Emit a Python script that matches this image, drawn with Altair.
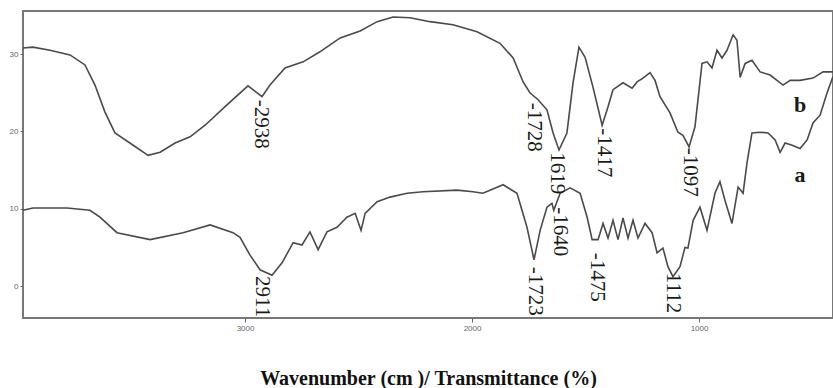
import altair as alt
import pandas as pd

# Curve a (lower spectrum)
wn_a = [3978, 3934, 3784, 3683, 3639, 3564, 3418, 3273, 3154, 3053, 3022, 2978, 2934, 2881,
        2837, 2788, 2749, 2714, 2678, 2639, 2595, 2551, 2515, 2489, 2471, 2418, 2361, 2286,
        2216, 2066, 1996, 1952, 1863, 1802, 1758, 1727, 1700, 1670, 1648, 1640, 1612, 1568,
        1524, 1493,
        1471, 1445, 1423, 1401, 1379, 1357, 1335, 1313, 1291, 1269, 1238, 1207, 1185, 1159,
        1137, 1115, 1084, 1062, 1049, 1026, 996, 965, 930, 908, 886, 855, 828, 806, 789, 767,
        731, 696, 665, 643, 621, 590, 555, 524, 498, 467, 436, 410]
tr_a = [9.8, 10.1, 10.1, 9.8, 8.9, 6.9, 6.0, 6.9, 7.9, 6.9, 6.3, 4.0, 2.1, 1.4,
        3.0, 5.6, 5.3, 7.0, 4.7, 7.0, 7.6, 8.9, 9.4, 7.2, 9.4, 10.9, 11.5, 12.0,
        12.2, 12.4, 12.2, 12.0, 13.1, 12.0, 7.6, 3.4, 7.2, 10.2, 10.7, 9.8, 12.0, 12.7,
        12.0, 8.9,
        6.0, 6.0, 8.1, 6.2, 8.5, 6.0, 8.8, 6.2, 8.5, 6.2, 8.1, 6.9, 4.3, 4.9,
        2.5, 1.2, 2.5, 5.0, 4.9, 8.5, 10.2, 7.2, 12.0, 13.5, 11.1, 8.1, 12.8, 12.0, 15.9, 19.8,
        19.9, 19.8, 18.9, 17.3, 18.5, 18.2, 17.8, 18.9, 21.1, 22.1, 25.0, 27.1]

# Curve b (upper spectrum)
wn_b = [3978, 3934, 3859, 3771, 3705, 3661, 3617, 3573, 3507, 3427, 3374, 3308, 3242, 3176,
        3088, 2987, 2925, 2890, 2824, 2744, 2670, 2581, 2493, 2418, 2348, 2273, 2185, 2084,
        1978, 1877, 1819, 1775, 1745, 1709,
        1670, 1643, 1617, 1582, 1555, 1529, 1502, 1467, 1427, 1405, 1379, 1335, 1295, 1273,
        1247, 1216, 1194, 1172, 1128, 1093, 1071, 1044, 1018, 987, 965, 943, 921, 899, 877,
        850, 833, 819, 797, 767, 731, 687, 630, 599, 555, 498, 454, 410]
tr_b = [30.8, 30.9, 30.5, 29.9, 28.6, 26.0, 22.5, 19.8, 18.5, 16.9, 17.3, 18.5, 19.3, 20.8,
        23.2, 25.9, 24.5, 26.0, 28.2, 29.0, 30.3, 32.1, 33.0, 34.2, 34.8, 34.7, 34.2, 33.8,
        32.9, 31.4, 29.5, 26.4, 25.0, 24.1,
        22.8, 19.8, 17.6, 19.8, 26.3, 30.9, 29.6, 25.7, 20.8, 22.8, 25.4, 26.3, 25.6, 26.4,
        26.9, 27.6, 26.6, 24.5, 22.4, 19.9, 19.5, 18.0, 20.6, 28.8, 29.0, 28.2, 30.5, 29.5, 30.5,
        32.5, 31.8, 27.0, 28.8, 29.2, 27.7, 27.3, 26.0, 26.6, 26.6, 26.9, 27.7, 27.7]

# Peak annotations
peak_text = ["-2938", "2911", "-1728", "1619", "-1640", "-1723", "-1417", "-1475", "-1097", "1112"]
peak_wn = [2930, 2925, 1727, 1626, 1612, 1722, 1418, 1449, 1040, 1115]
peak_tr = [24.1, 1.3, 23.7, 17.3, 10.2, 2.5, 20.4, 4.3, 17.9, 1.7]

# Curve letters
curve_text = ["b", "a"]
curve_wn = [555, 555]
curve_tr = [23.4, 14.3]

x_ticks = [3000, 2000, 1000]
y_ticks = [0, 10, 20, 30]

df = pd.concat([
    pd.DataFrame({"wn": wn_a, "tr": tr_a, "series": "a"}),
    pd.DataFrame({"wn": wn_b, "tr": tr_b, "series": "b"}),
])
peaks = pd.DataFrame({"wn": peak_wn, "tr": peak_tr, "text": peak_text})
letters = pd.DataFrame({"wn": curve_wn, "tr": curve_tr, "text": curve_text})

xscale = alt.Scale(domain=[410, 3978], reverse=True, nice=False, zero=False)
yscale = alt.Scale(domain=[-4.14, 35.58], nice=False, zero=False)

xaxis = alt.Axis(values=x_ticks, format="d", title="Wavenumber (cm )/ Transmittance (%)",
                 grid=False, domain=False, tickSize=4, tickColor="#666", labelFontSize=8,
                 labelColor="#666", labelFont="Liberation Sans", labelPadding=2,
                 titleFont="Liberation Serif", titleFontSize=20, titleFontWeight="bold",
                 titleColor="#111", titleBaseline="alphabetic", titleY=66)
yaxis = alt.Axis(values=y_ticks, format="d", title=None, grid=False, domain=False, tickSize=3,
                 tickColor="#666", labelFontSize=8, labelColor="#666",
                 labelFont="Liberation Sans", labelPadding=2)

lines = alt.Chart(df).mark_line(color="#4a4a4a", strokeWidth=1.6).encode(
    x=alt.X("wn:Q", scale=xscale, axis=xaxis),
    y=alt.Y("tr:Q", scale=yscale, axis=yaxis),
    detail="series:N",
    order=alt.Order("wn:Q", sort="descending"),
)

peak_labels = alt.Chart(peaks).mark_text(
    angle=90, align="left", baseline="middle", font="Liberation Serif",
    fontSize=21, color="#1a1a1a"
).encode(x=alt.X("wn:Q", scale=xscale), y=alt.Y("tr:Q", scale=yscale), text="text:N")

letter_labels = alt.Chart(letters).mark_text(
    align="center", baseline="middle", font="Liberation Serif",
    fontSize=22, fontWeight="bold", color="#1a1a1a"
).encode(x=alt.X("wn:Q", scale=xscale), y=alt.Y("tr:Q", scale=yscale), text="text:N")

chart = alt.layer(lines, peak_labels, letter_labels).properties(
    width=810, height=307,
    autosize=alt.AutoSizeParams(type="none"),
    padding={"left": 23, "top": 11, "right": 0, "bottom": 70},
    background="white",
).configure_view(stroke="#777", strokeWidth=2)

chart.save("out.html", embed_options={"renderer": "svg", "actions": False})
